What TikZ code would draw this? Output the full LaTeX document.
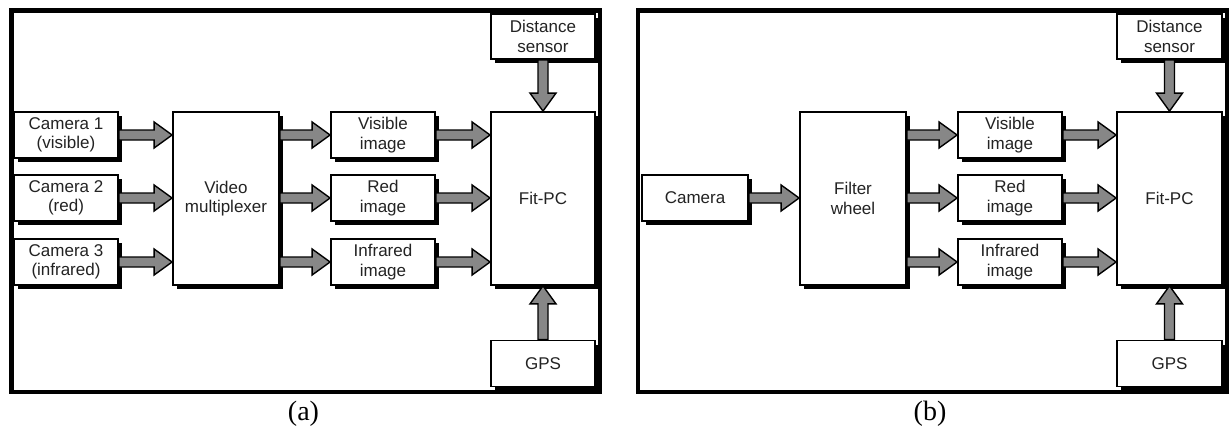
\documentclass[tikz,border=0pt]{standalone}
\usepackage{fontspec}
\setmainfont{Liberation Serif}
\setsansfont{Liberation Sans}
\usetikzlibrary{calc}
\definecolor{arrowgray}{RGB}{135,135,135}
\definecolor{txtgray}{RGB}{35,35,35}
\tikzset{
  blk/.style={draw=black, fill=white, line width=1.8pt, inner sep=0pt, align=center,
    text=txtgray, font=\sffamily\fontsize{17}{19.5}\selectfont},
  small/.style={blk, minimum width=104pt, minimum height=46pt},
  tall/.style={blk, minimum width=106pt, minimum height=173pt},
  frame/.style={draw=black, line width=4.5pt},
  shadowfill/.style={fill=black, draw=none},
  caption/.style={font=\fontsize{28}{32}\selectfont, anchor=base, inner sep=0pt},
  fatarrow/.style={draw=black, fill=arrowgray, line width=1.4pt, line join=miter,
    to path={($(\tikztotarget)!18pt!(\tikztostart)$) coordinate (hb)
      ($(\tikztostart)!5pt!90:(\tikztotarget)$) -- ($(hb)!5pt!90:(\tikztotarget)$)
      -- ($(hb)!13pt!90:(\tikztotarget)$) -- (\tikztotarget)
      -- ($(hb)!13pt!-90:(\tikztotarget)$) -- ($(hb)!5pt!-90:(\tikztotarget)$)
      -- ($(\tikztostart)!5pt!-90:(\tikztotarget)$) -- cycle}}
}
\begin{document}
\begin{tikzpicture}[x=1pt,y=-1pt]
\useasboundingbox (0,0) rectangle (1229,428);
% frames
\draw[frame] (11.5,10.5) rectangle (600,392);
\draw[frame] (638,10.5) rectangle (1227,392);
% box shadows, drawn first (offset down-right)
\fill[shadowfill] (18,116) rectangle (122,162);
\fill[shadowfill] (18,179) rectangle (122,225);
\fill[shadowfill] (18,243) rectangle (122,289);
\fill[shadowfill] (177,116) rectangle (283,289);
\fill[shadowfill] (335,116) rectangle (439,162);
\fill[shadowfill] (335,179) rectangle (439,225);
\fill[shadowfill] (335,243) rectangle (439,289);
\fill[shadowfill] (495,116) rectangle (599,289);
\fill[shadowfill] (495,18) rectangle (599,63);
\fill[shadowfill] (495,344.5) rectangle (599,390.5);
\fill[shadowfill] (646,179) rectangle (752,225);
\fill[shadowfill] (804,116) rectangle (910,289);
\fill[shadowfill] (962,116) rectangle (1066,162);
\fill[shadowfill] (962,179) rectangle (1066,225);
\fill[shadowfill] (962,243) rectangle (1066,289);
\fill[shadowfill] (1121,116) rectangle (1226,289);
\fill[shadowfill] (1121,18) rectangle (1226,63);
\fill[shadowfill] (1121,344.5) rectangle (1226,390.5);
% ---- panel (a)
\node[small] (c1) at (66,135) {Camera 1\\(visible)};
\node[small] (c2) at (66,198) {Camera 2\\(red)};
\node[small] (c3) at (66,262) {Camera 3\\(infrared)};
\node[tall] (mux) at (226,198.5) {Video\\multiplexer};
\node[small] (va) at (383,135) {Visible\\image};
\node[small] (ra) at (383,198) {Red\\image};
\node[small] (ia) at (383,262) {Infrared\\image};
\node[tall, minimum width=104pt] (fa) at (543,198.5) {Fit-PC};
\node[small, minimum height=45pt] (da) at (543,36.5) {Distance\\sensor};
\node[small] (ga) at (543,363.5) {GPS};
\draw[fatarrow] (c1.east) to (c1.east -| mux.west);
\draw[fatarrow] (c2.east) to (c2.east -| mux.west);
\draw[fatarrow] (c3.east) to (c3.east -| mux.west);
\draw[fatarrow] (va.west -| mux.east) to (va.west);
\draw[fatarrow] (ra.west -| mux.east) to (ra.west);
\draw[fatarrow] (ia.west -| mux.east) to (ia.west);
\draw[fatarrow] (va.east) to (va.east -| fa.west);
\draw[fatarrow] (ra.east) to (ra.east -| fa.west);
\draw[fatarrow] (ia.east) to (ia.east -| fa.west);
\draw[fatarrow] (da.south) to (fa.north);
\draw[fatarrow] (ga.north) to (fa.south);
\node[caption] (la) at (303.5,420) {(a)};
% ---- panel (b)
\node[small, minimum width=106pt] (cb) at (695,198) {Camera};
\node[tall] (fw) at (853,198.5) {Filter\\wheel};
\node[small] (vb) at (1010,135) {Visible\\image};
\node[small] (rb) at (1010,198) {Red\\image};
\node[small] (ib) at (1010,262) {Infrared\\image};
\node[tall, minimum width=105pt] (fb) at (1169.5,198.5) {Fit-PC};
\node[small, minimum width=105pt, minimum height=45pt] (db) at (1169.5,36.5) {Distance\\sensor};
\node[small, minimum width=105pt] (gb) at (1169.5,363.5) {GPS};
\draw[fatarrow] (cb.east) to (cb.east -| fw.west);
\draw[fatarrow] (vb.west -| fw.east) to (vb.west);
\draw[fatarrow] (rb.west -| fw.east) to (rb.west);
\draw[fatarrow] (ib.west -| fw.east) to (ib.west);
\draw[fatarrow] (vb.east) to (vb.east -| fb.west);
\draw[fatarrow] (rb.east) to (rb.east -| fb.west);
\draw[fatarrow] (ib.east) to (ib.east -| fb.west);
\draw[fatarrow] (db.south) to (fb.north);
\draw[fatarrow] (gb.north) to (fb.south);
\node[caption] (lb) at (930,420) {(b)};
\end{tikzpicture}
\end{document}
